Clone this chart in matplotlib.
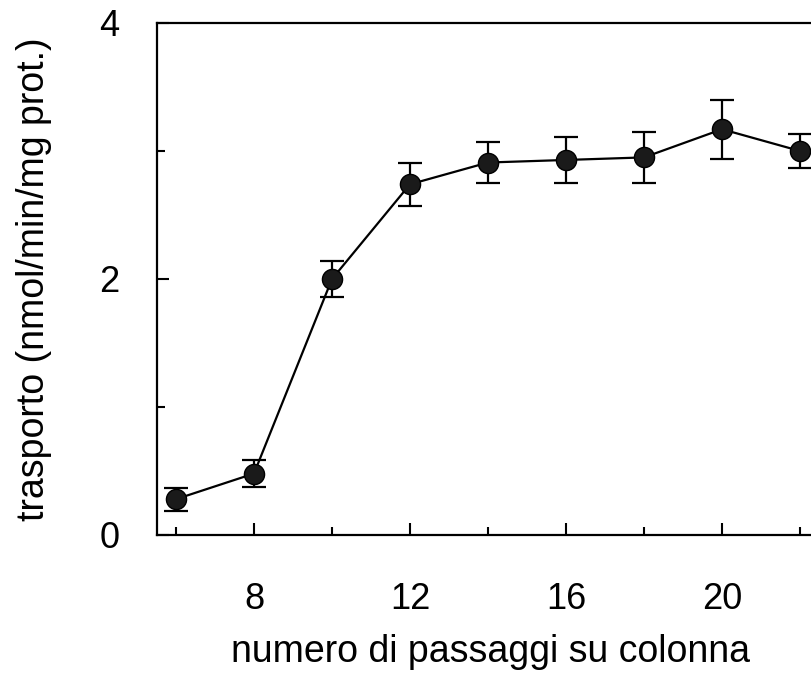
import matplotlib
matplotlib.use("Agg")
import matplotlib.pyplot as plt
from matplotlib.ticker import FixedLocator

passaggi = [6, 8, 10, 12, 14, 16, 18, 20, 22]
trasporto = [0.28, 0.48, 2.00, 2.74, 2.91, 2.93, 2.95, 3.17, 3.00]
errore = [0.09, 0.105, 0.14, 0.17, 0.16, 0.18, 0.20, 0.23, 0.13]
xticks_major = [8, 12, 16, 20]
xticks_minor = [6, 10, 14, 18, 22]
yticks_major = [0, 2, 4]
yticks_minor = [1, 3]

plt.rcParams['font.family'] = ['Liberation Sans', 'DejaVu Sans']

fig = plt.figure(figsize=(8.12, 6.75), dpi=100)
W, H = 812, 675
left_px, bottom_px, top_px = 157, 535, 23
x0, pxu = 5.513, 39.0
x1 = 22.6
ax = fig.add_axes([left_px / W, (H - bottom_px) / H, (x1 - x0) * pxu / W, (bottom_px - top_px) / H])

ax.errorbar(passaggi, trasporto, yerr=errore, fmt='-o', color='black',
            mfc='#1a1a1a', mec='black', ms=14.5, lw=1.6, elinewidth=1.6,
            capsize=8.5, capthick=1.6, clip_on=False, zorder=3)

ax.set_xlim(x0, x1)
ax.set_ylim(0, 4)
ax.xaxis.set_major_locator(FixedLocator(xticks_major))
ax.xaxis.set_minor_locator(FixedLocator(xticks_minor))
ax.yaxis.set_major_locator(FixedLocator(yticks_major))
ax.yaxis.set_minor_locator(FixedLocator(yticks_minor))
ax.set_xticklabels([str(v) for v in xticks_major])
ax.set_yticklabels([str(v) for v in yticks_major])

for s in ['left', 'bottom', 'top']:
    ax.spines[s].set_linewidth(1.6)
ax.spines['right'].set_visible(False)

ax.tick_params(which='both', direction='in', width=1.5, labelsize=26)
ax.tick_params(which='major', length=8.5)
ax.tick_params(which='minor', length=5.5)
ax.tick_params(axis='x', which='major', pad=34)
ax.tick_params(axis='y', which='major', pad=27)
ax.tick_params(top=False, right=False, which='both')

ax.set_xlabel('numero di passaggi su colonna', fontsize=27, labelpad=12)
ax.set_ylabel('trasporto (nmol/min/mg prot.)', fontsize=27, labelpad=34)

fig.savefig('out.png', dpi=100)
